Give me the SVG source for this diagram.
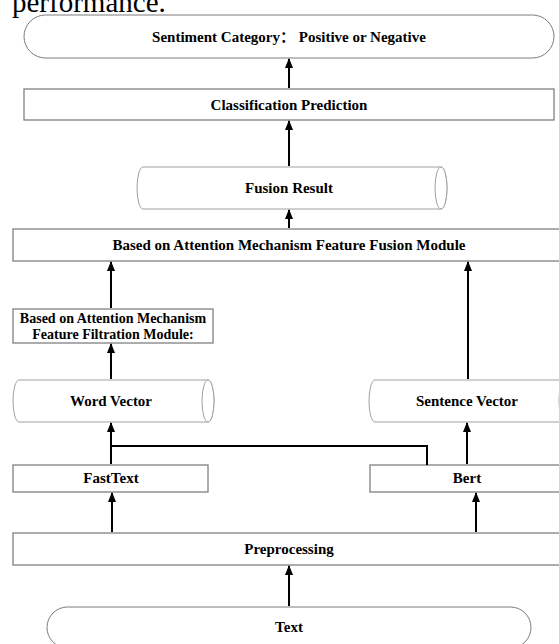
<svg xmlns="http://www.w3.org/2000/svg" width="559" height="644" viewBox="0 0 559 644">
<style>
.box{fill:#fff;stroke:#808080;stroke-width:1.3}
.cyl{fill:#fff;stroke:#a0a0a0;stroke-width:1}
.term{fill:#fff;stroke:#7a7a7a;stroke-width:1}
.lbl{font-family:"Liberation Serif","Noto Sans CJK SC",serif;font-weight:bold;font-size:15px;fill:#000;text-anchor:middle}
.sm{font-size:14px}
.cap{font-family:"Liberation Serif",serif;font-size:29px;fill:#000}
.conn line,.conn polyline{stroke:#000;stroke-width:2;fill:none}
</style>
<defs>
<marker id="ah" markerWidth="8" markerHeight="10" refX="4" refY="1" orient="0" markerUnits="userSpaceOnUse" viewBox="0 0 8 10">
<path d="M0,10 L4,0 L8,10 Z" fill="#000"/>
</marker>
</defs>
<rect width="559" height="644" fill="#fff"/>
<text class="cap" x="12" y="12">performance.</text>

<g id="sentiment">
<rect class="term" x="24" y="15" width="530" height="43" rx="21.5" ry="21.5"/>
<text class="lbl" x="289" y="41.5">Sentiment Category： Positive or Negative</text>
</g>
<g id="classification">
<rect class="box" x="24" y="89" width="530" height="31"/>
<text class="lbl" x="289" y="109.5">Classification Prediction</text>
</g>
<g id="fusionResult">
<path class="cyl" d="M143,167 L441,167 A6,21 0 0 1 441,209 L143,209 A6,21 0 0 1 143,167 Z"/>
<ellipse class="cyl" cx="441" cy="188" rx="6" ry="21"/>
<text class="lbl" x="289" y="193">Fusion Result</text>
</g>
<g id="fusionModule">
<rect class="box" x="13" y="229" width="552" height="32"/>
<text class="lbl" x="289" y="250">Based on Attention Mechanism Feature Fusion Module</text>
</g>
<g id="filtration">
<rect class="box" x="13" y="309" width="200" height="34"/>
<text class="lbl sm" x="113" y="322.5">Based on Attention Mechanism</text>
<text class="lbl sm" x="113" y="339">Feature Filtration Module:</text>
</g>
<g id="wordVector">
<path class="cyl" d="M19,380 L208,380 A6,21 0 0 1 208,422 L19,422 A6,21 0 0 1 19,380 Z"/>
<ellipse class="cyl" cx="208" cy="401" rx="6" ry="21"/>
<text class="lbl" x="111" y="406">Word Vector</text>
</g>
<g id="sentenceVector">
<path class="cyl" d="M375,380 L565,380 A6,21 0 0 1 565,422 L375,422 A6,21 0 0 1 375,380 Z"/>
<ellipse class="cyl" cx="565" cy="401" rx="6" ry="21"/>
<text class="lbl" x="467" y="406">Sentence Vector</text>
</g>
<g id="fasttext">
<rect class="box" x="13" y="465" width="195" height="27"/>
<text class="lbl" x="111" y="483">FastText</text>
</g>
<g id="bert">
<rect class="box" x="370" y="465" width="195" height="27"/>
<text class="lbl" x="467" y="483">Bert</text>
</g>
<g id="preprocessing">
<rect class="box" x="13" y="533" width="552" height="32"/>
<text class="lbl" x="289" y="554">Preprocessing</text>
</g>
<g id="text">
<rect class="term" x="47" y="607" width="484" height="41" rx="20.5" ry="20.5"/>
<text class="lbl" x="289" y="632">Text</text>
</g>

<g class="conn" id="connectors">
<line x1="289" y1="88" x2="289" y2="59" marker-end="url(#ah)"/>
<line x1="289" y1="166" x2="289" y2="121" marker-end="url(#ah)"/>
<line x1="289" y1="228" x2="289" y2="210" marker-end="url(#ah)"/>
<line x1="111" y1="308" x2="111" y2="262" marker-end="url(#ah)"/>
<line x1="468" y1="379" x2="468" y2="262" marker-end="url(#ah)"/>
<line x1="111" y1="379" x2="111" y2="344" marker-end="url(#ah)"/>
<line x1="111" y1="464" x2="111" y2="423" marker-end="url(#ah)"/>
<polyline points="111,446 427,446 427,465"/>
<line x1="467" y1="464" x2="467" y2="423" marker-end="url(#ah)"/>
<line x1="112" y1="532" x2="112" y2="493" marker-end="url(#ah)"/>
<line x1="476" y1="532" x2="476" y2="493" marker-end="url(#ah)"/>
<line x1="289" y1="606" x2="289" y2="566" marker-end="url(#ah)"/>
</g>
</svg>
